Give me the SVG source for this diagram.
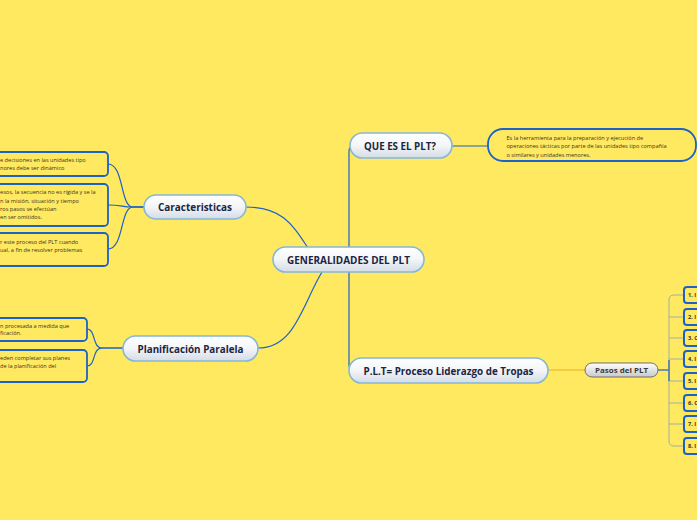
<svg xmlns="http://www.w3.org/2000/svg" width="697" height="520" viewBox="0 0 697 520">
<defs>
<linearGradient id="gMain" x1="0" y1="0" x2="0" y2="1">
<stop offset="0" stop-color="#ffffff"/>
<stop offset="0.5" stop-color="#f3f5f8"/>
<stop offset="1" stop-color="#d4dce6"/>
</linearGradient>
<linearGradient id="gGray" x1="0" y1="0" x2="0" y2="1">
<stop offset="0" stop-color="#ffffff"/>
<stop offset="1" stop-color="#c9c9c9"/>
</linearGradient>
<style>
.main rect{fill:url(#gMain);stroke:#86b6d8;stroke-width:1.6}
.main text{font-family:"Open Sans","DejaVu Sans",sans-serif;font-weight:bold;font-size:10.5px;fill:#1b2442;text-anchor:middle}
.box rect{fill:#ffe960;stroke:#1d62c6;stroke-width:1.8}
.box text{font-family:"Open Sans","DejaVu Sans",sans-serif;font-size:5.6px;fill:#3a3320}
.step rect{fill:#ffe960;stroke:#1d62c6;stroke-width:2}
.step text{font-family:"Open Sans","DejaVu Sans",sans-serif;font-weight:bold;font-size:5.6px;fill:#3a3320}
.conn path{fill:none;stroke:#1d62c6;stroke-width:1.2}
.conn path.gold{stroke:#f2c230;stroke-width:1.4}
.conn path.gray{stroke:#9fb0a6;stroke-width:1}
</style>
</defs>
<rect x="0" y="0" width="697" height="520" fill="#ffe960"/>
<g id="connectors" class="conn">
<path d="M349,247 V151 Q349,146 354,146"/>
<path d="M349,272 V365 Q349,370 354,370"/>
<path d="M452,146 H488"/>
<path d="M308,248 C292,224 282,207 246,207"/>
<path d="M322,272 C302,305 295,348 258,348"/>
<path d="M144,207 H133 C120,207 124,164 108,164"/>
<path d="M144,207 H133 C120,207 124,205 108,205"/>
<path d="M144,207 H133 C120,207 124,249 108,249"/>
<path d="M123,348 H102 C92,348 96,329 87,329"/>
<path d="M123,348 H102 C92,348 96,366 87,366"/>
<path class="gold" d="M548,370 H585"/>
<path d="M658,370 H669"/>
<path class="gray" d="M684,295 H674 Q669,295 669,300 V441 Q669,446 674,446 H684"/>
<path class="gray" d="M669,317 H684 M669,338 H684 M669,359 H684 M669,381 H684 M669,403 H684 M669,424 H684"/>
<path d="M669,360 V381"/>
</g>
<g id="center" class="main">
<rect x="273" y="247" width="151" height="25" rx="12.5"/>
<text x="348.5" y="263.5" textLength="123" lengthAdjust="spacingAndGlyphs">GENERALIDADES DEL PLT</text>
</g>
<g id="que-es" class="main">
<rect x="350" y="133" width="102" height="25" rx="12.5"/>
<text x="400" y="149.5" textLength="72" lengthAdjust="spacingAndGlyphs">QUE ES EL PLT?</text>
</g>
<g id="plt-proceso" class="main">
<rect x="349" y="358" width="199" height="25" rx="12.5"/>
<text x="448.5" y="374.5" textLength="170" lengthAdjust="spacingAndGlyphs">P.L.T= Proceso Liderazgo de Tropas</text>
</g>
<g id="caracteristicas" class="main">
<rect x="144" y="195" width="102" height="24" rx="12"/>
<text x="195" y="211" textLength="74" lengthAdjust="spacingAndGlyphs">Caracteristicas</text>
</g>
<g id="planificacion" class="main">
<rect x="123" y="336" width="135" height="25" rx="12.5"/>
<text x="190.5" y="352.5" textLength="106" lengthAdjust="spacingAndGlyphs">Planificación Paralela</text>
</g>
<g id="pasos">
<rect x="585" y="363" width="73" height="14" rx="7" fill="url(#gGray)" stroke="#6f6f6f" stroke-width="1"/>
<text x="621.5" y="372.6" font-family="'Open Sans','DejaVu Sans',sans-serif" font-weight="bold" font-size="7" fill="#3a3a3a" text-anchor="middle" textLength="53" lengthAdjust="spacingAndGlyphs">Pasos del PLT</text>
</g>
<g id="definicion" class="box">
<rect x="488" y="129" width="208" height="32" rx="15"/>
<text x="506.5" y="140">Es la herramienta para la preparación y ejecución de</text>
<text x="506.5" y="148.3">operaciones tácticas por parte de las unidades tipo compañía</text>
<text x="506.5" y="156.6">o similares y unidades menores.</text>
</g>
<g id="car-1" class="box">
<rect x="-10" y="152" width="118" height="24" rx="4"/>
<text x="0" y="162">e decisiones en las unidades tipo</text>
<text x="0" y="170.3">nores debe ser dinámico</text>
</g>
<g id="car-2" class="box">
<rect x="-10" y="184" width="118" height="42" rx="4"/>
<text x="0" y="194.3">esos, la secuencia no es rígida y se la</text>
<text x="0" y="202.6">n la misión, situación y tiempo</text>
<text x="0" y="210.9">ros pasos se efectúan</text>
<text x="0" y="219.2">en ser omitidos.</text>
</g>
<g id="car-3" class="box">
<rect x="-10" y="233" width="118" height="33" rx="4"/>
<text x="0" y="243.6">r este proceso del PLT cuando</text>
<text x="0" y="251.9">ual, a fin de resolver problemas</text>
</g>
<g id="plan-1" class="box">
<rect x="-10" y="318" width="97" height="23" rx="4"/>
<text x="0" y="327.6">n procesada a medida que</text>
<text x="0" y="335.3">ficación.</text>
</g>
<g id="plan-2" class="box">
<rect x="-10" y="350" width="97" height="32" rx="4"/>
<text x="0" y="359.9">eden completar sus planes</text>
<text x="0" y="367.6">de la planificación del</text>
</g>
<g id="paso-1" class="step"><rect x="684" y="287" width="30" height="16" rx="3"/><text x="688" y="297">1. I</text></g>
<g id="paso-2" class="step"><rect x="684" y="309" width="30" height="16" rx="3"/><text x="688" y="319">2. I</text></g>
<g id="paso-3" class="step"><rect x="684" y="330" width="30" height="16" rx="3"/><text x="688" y="340">3. C</text></g>
<g id="paso-4" class="step"><rect x="684" y="351" width="30" height="16" rx="3"/><text x="688" y="361">4. I</text></g>
<g id="paso-5" class="step"><rect x="684" y="373" width="30" height="16" rx="3"/><text x="688" y="383">5. I</text></g>
<g id="paso-6" class="step"><rect x="684" y="395" width="30" height="16" rx="3"/><text x="688" y="405">6. C</text></g>
<g id="paso-7" class="step"><rect x="684" y="416" width="30" height="16" rx="3"/><text x="688" y="426">7. I</text></g>
<g id="paso-8" class="step"><rect x="684" y="438" width="30" height="16" rx="3"/><text x="688" y="448">8. I</text></g>
</svg>
